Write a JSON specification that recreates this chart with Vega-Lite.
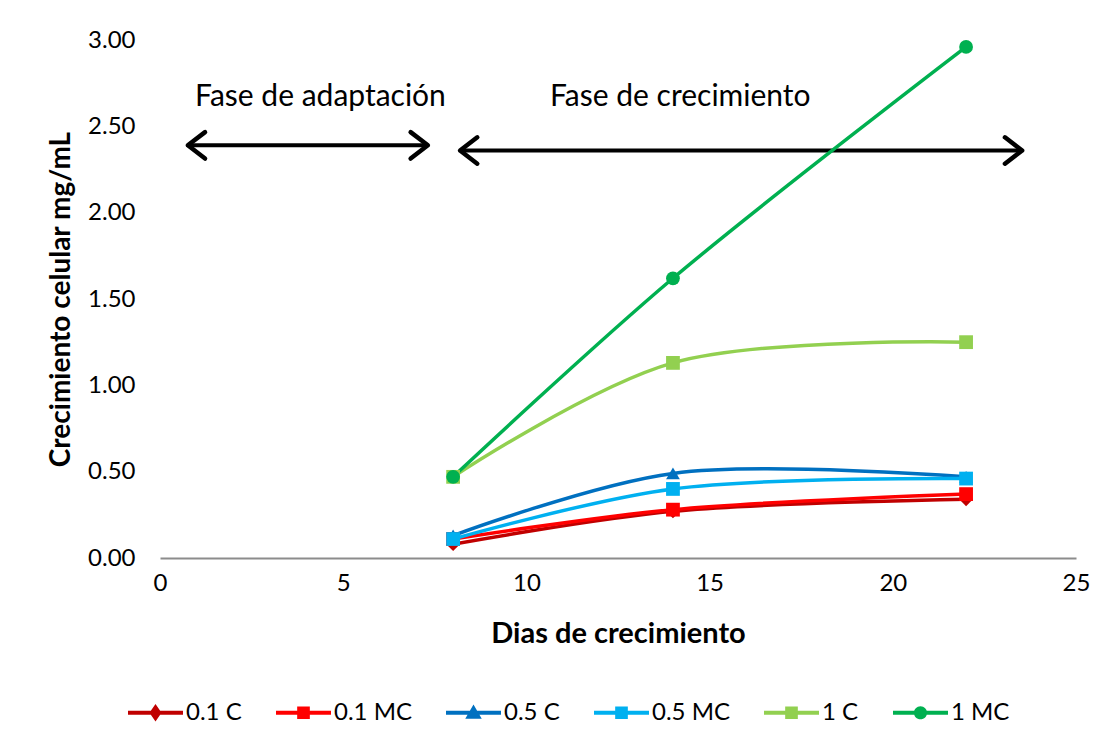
{
  "$schema": "https://vega.github.io/schema/vega-lite/v6.json",
  "autosize": "none",
  "width": 916,
  "height": 518,
  "padding": {"left": 160, "top": 40, "right": 31, "bottom": 192},
  "background": "white",
  "config": {
    "font": "Lato",
    "view": {"stroke": null},
    "axis": {"grid": false, "ticks": false, "labelFont": "Lato", "titleFont": "Lato", "labelColor": "#000", "titleColor": "#000", "labelFlush": false}
  },
  "datasets": {
    "crec": [
      {"serie": "0.1 C", "dia": 8, "valor": 0.08},
      {"serie": "0.1 C", "dia": 14, "valor": 0.27},
      {"serie": "0.1 C", "dia": 22, "valor": 0.34},
      {"serie": "0.1 MC", "dia": 8, "valor": 0.11},
      {"serie": "0.1 MC", "dia": 14, "valor": 0.28},
      {"serie": "0.1 MC", "dia": 22, "valor": 0.37},
      {"serie": "0.5 C", "dia": 8, "valor": 0.13},
      {"serie": "0.5 C", "dia": 14, "valor": 0.49},
      {"serie": "0.5 C", "dia": 22, "valor": 0.47},
      {"serie": "0.5 MC", "dia": 8, "valor": 0.11},
      {"serie": "0.5 MC", "dia": 14, "valor": 0.40},
      {"serie": "0.5 MC", "dia": 22, "valor": 0.46},
      {"serie": "1 C", "dia": 8, "valor": 0.47},
      {"serie": "1 C", "dia": 14, "valor": 1.13},
      {"serie": "1 C", "dia": 22, "valor": 1.25},
      {"serie": "1 MC", "dia": 8, "valor": 0.47},
      {"serie": "1 MC", "dia": 14, "valor": 1.62},
      {"serie": "1 MC", "dia": 22, "valor": 2.96}
    ],
    "fases": [
      {"fase": "Fase de adaptación", "centro": 4.38, "inicio": 0.76, "fin": 7.31, "nivel": 2.39, "texto": 2.67},
      {"fase": "Fase de crecimiento", "centro": 14.2, "inicio": 8.19, "fin": 23.53, "nivel": 2.36, "texto": 2.67}
    ]
  },
  "resolve": {"scale": {"color": "independent", "shape": "independent"}, "legend": {"color": "independent", "shape": "independent"}},
  "layer": [
    {
      "mark": {"type": "rule", "strokeDash": [5, 4], "strokeWidth": 1.3, "color": "#000", "clip": false},
      "encoding": {
        "x": {"datum": 7.78, "type": "quantitative", "scale": {"domain": [0, 25], "nice": false}},
        "y": {"datum": -0.1, "type": "quantitative", "scale": {"domain": [0, 3], "nice": false}},
        "y2": {"datum": 2.38}
      }
    },
    {
      "data": {"name": "fases"},
      "mark": {"type": "rule", "strokeWidth": 4, "color": "#000"},
      "encoding": {
        "x": {"field": "inicio", "type": "quantitative"},
        "x2": {"field": "fin"},
        "y": {"field": "nivel", "type": "quantitative"}
      }
    },
    {
      "data": {"name": "fases"},
      "mark": {"type": "point", "shape": "M1.3,-1L0,0L1.3,1", "filled": false, "strokeWidth": 4.5, "color": "#000", "size": 700, "opacity": 1, "strokeCap": "round", "strokeJoin": "round"},
      "encoding": {
        "x": {"field": "inicio", "type": "quantitative"},
        "y": {"field": "nivel", "type": "quantitative"}
      }
    },
    {
      "data": {"name": "fases"},
      "mark": {"type": "point", "shape": "M-1.3,-1L0,0L-1.3,1", "filled": false, "strokeWidth": 4.5, "color": "#000", "size": 700, "opacity": 1, "strokeCap": "round", "strokeJoin": "round"},
      "encoding": {
        "x": {"field": "fin", "type": "quantitative"},
        "y": {"field": "nivel", "type": "quantitative"}
      }
    },
    {
      "data": {"name": "fases"},
      "mark": {"type": "text", "fontSize": 30, "font": "Lato", "color": "#000"},
      "encoding": {
        "x": {"field": "centro", "type": "quantitative"},
        "y": {"field": "texto", "type": "quantitative"},
        "text": {"field": "fase"}
      }
    },
    {
      "data": {"name": "crec"},
      "mark": {"type": "line", "interpolate": "catmull-rom", "strokeWidth": 3.5},
      "encoding": {
        "x": {"field": "dia", "type": "quantitative", "scale": {"domain": [0, 25], "nice": false},
          "axis": {"values": [0, 5, 10, 15, 20, 25], "title": "Dias de crecimiento", "titleFontSize": 29, "titleFontWeight": "bold", "labelFontSize": 24, "labelPadding": 13, "titlePadding": 24, "domainColor": "#8c8c8c", "domainWidth": 2}},
        "y": {"field": "valor", "type": "quantitative", "scale": {"domain": [0, 3], "nice": false},
          "axis": {"values": [0, 0.5, 1, 1.5, 2, 2.5, 3], "format": ".2f", "title": "Crecimiento celular mg/mL", "titleFontSize": 28, "titleFontWeight": "bold", "labelFontSize": 24, "labelPadding": 25, "titlePadding": 12, "domain": false}},
        "color": {"field": "serie", "type": "nominal", "legend": null,
          "scale": {"domain": ["0.1 C", "0.1 MC", "0.5 C", "0.5 MC", "1 C", "1 MC"], "range": ["#C00000", "#FF0000", "#0070C0", "#00B0F0", "#92D050", "#00B050"]}}
      }
    },
    {
      "data": {"name": "crec"},
      "mark": {"type": "point", "filled": true, "opacity": 1, "size": 190},
      "encoding": {
        "x": {"field": "dia", "type": "quantitative"},
        "y": {"field": "valor", "type": "quantitative"},
        "color": {"field": "serie", "type": "nominal", "legend": null,
          "scale": {"domain": ["0.1 C", "0.1 MC", "0.5 C", "0.5 MC", "1 C", "1 MC"], "range": ["#C00000", "#FF0000", "#0070C0", "#00B0F0", "#92D050", "#00B050"]}},
        "shape": {"field": "serie", "type": "nominal", "legend": null,
          "scale": {"domain": ["0.1 C", "0.1 MC", "0.5 C", "0.5 MC", "1 C", "1 MC"], "range": ["diamond", "square", "triangle-up", "square", "square", "circle"]}}
      }
    },
    {
      "data": {"name": "crec"},
      "mark": {"type": "point", "filled": true, "opacity": 0},
      "encoding": {
        "x": {"field": "dia", "type": "quantitative"},
        "y": {"field": "valor", "type": "quantitative"},
        "color": {"field": "serie", "type": "nominal",
          "scale": {"domain": ["0.1 C", "0.1 MC", "0.5 C", "0.5 MC", "1 C", "1 MC"], "range": ["#C00000", "#FF0000", "#0070C0", "#00B0F0", "#92D050", "#00B050"]},
          "legend": {"orient": "none", "legendX": -32, "legendY": 645, "direction": "horizontal", "title": null, "labelFontSize": 24, "labelFont": "Lato", "labelColor": "#000", "symbolSize": 3025, "symbolStrokeWidth": 0, "symbolOpacity": 1, "columnPadding": 34, "labelOffset": 3}},
        "shape": {"field": "serie", "type": "nominal",
          "scale": {"domain": ["0.1 C", "0.1 MC", "0.5 C", "0.5 MC", "1 C", "1 MC"], "range": [
            "M-1,-0.075L1,-0.075L1,0.075L-1,0.075ZM0,-0.32L0.22,0L0,0.32L-0.22,0Z",
            "M-1,-0.075L1,-0.075L1,0.075L-1,0.075ZM-0.23,-0.23L0.23,-0.23L0.23,0.23L-0.23,0.23Z",
            "M-1,-0.075L1,-0.075L1,0.075L-1,0.075ZM0,-0.3L0.3,0.22L-0.3,0.22Z",
            "M-1,-0.075L1,-0.075L1,0.075L-1,0.075ZM-0.23,-0.23L0.23,-0.23L0.23,0.23L-0.23,0.23Z",
            "M-1,-0.075L1,-0.075L1,0.075L-1,0.075ZM-0.23,-0.23L0.23,-0.23L0.23,0.23L-0.23,0.23Z",
            "M-1,-0.075L1,-0.075L1,0.075L-1,0.075ZM0.24,0A0.24,0.24,0,1,1,-0.24,0A0.24,0.24,0,1,1,0.24,0Z"
          ]},
          "legend": {"orient": "none", "legendX": -32, "legendY": 645, "direction": "horizontal", "title": null, "labelFontSize": 24, "labelFont": "Lato", "labelColor": "#000", "symbolSize": 3025, "symbolStrokeWidth": 0, "symbolOpacity": 1, "columnPadding": 34, "labelOffset": 3}}
      }
    }
  ]
}
